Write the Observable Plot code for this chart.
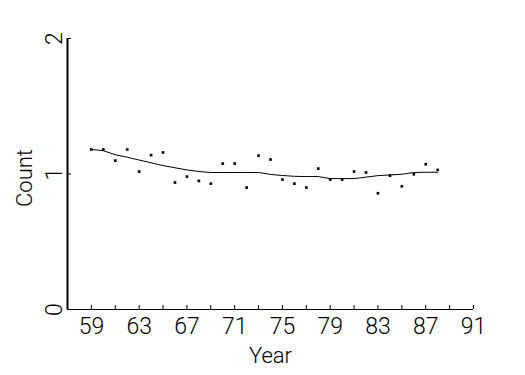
<!DOCTYPE html>
<html>
<head>
<meta charset="utf-8">
<script src="https://cdn.jsdelivr.net/npm/d3@7"></script>
<script src="https://cdn.jsdelivr.net/npm/@observablehq/plot@0.6"></script>
<style>
  html, body { margin: 0; padding: 0; background: #fff; }
  #chart { width: 525px; height: 375px; }
</style>
</head>
<body>
<div id="chart"></div>
<script>
const years = d3.range(59, 89);
const counts = [1.181, 1.181, 1.099, 1.181, 1.018, 1.139, 1.159, 0.937, 0.981, 0.949,
                0.929, 1.077, 1.077, 0.900, 1.136, 1.107, 0.959, 0.929, 0.900, 1.040,
                0.959, 0.959, 1.018, 1.011, 0.858, 0.988, 0.909, 0.998, 1.072, 1.030];
const smooth = [1.181, 1.172, 1.142, 1.124, 1.103, 1.083, 1.062, 1.046, 1.030, 1.018,
                1.011, 1.011, 1.011, 1.011, 1.011, 0.997, 0.989, 0.983, 0.981, 0.981,
                0.966, 0.966, 0.966, 0.977, 0.988, 0.993, 0.998, 1.011, 1.013, 1.013];
const xTicks = d3.range(59, 92, 2);
const xLabels = d3.range(59, 92, 4);
const yTicks = [0, 1, 2];
const xTitle = "Year";
const yTitle = "Count";

const data = years.map((y, i) => ({year: y, count: counts[i], smooth: smooth[i]}));

const FONT = "Roboto";
const W = 525, H = 375, ML = 67, MR = 52, MT = 38, MB = 66;
const plotW = W - ML - MR, plotH = H - MT - MB;

const chart = Plot.plot({
  width: W, height: H,
  marginLeft: ML, marginRight: MR, marginTop: MT, marginBottom: MB,
  style: {background: "#fff", fontFamily: FONT, color: "#000", overflow: "visible"},
  x: {domain: [57, 91], axis: null},
  y: {domain: [0, 2], axis: null},
  marks: [
    Plot.ruleY([0], {stroke: "#000", strokeWidth: 1}),
    Plot.ruleX([57], {stroke: "#000", strokeWidth: 2}),
    Plot.tickX(xTicks, {x: d => d, stroke: "#000", insetTop: plotH - 4}),
    Plot.tickY(yTicks, {y: d => d, stroke: "#000", insetRight: plotW - 4}),
    Plot.text(xLabels, {x: d => d, y: 0, text: d => String(d), dy: 17, lineAnchor: "middle",
      fontSize: 23, fontWeight: 300, fill: "#000", letterSpacing: "1.5px"}),
    Plot.text(yTicks, {y: d => d, text: d => String(d), frameAnchor: "left", dx: -13,
      rotate: -90, textAnchor: "middle", lineAnchor: "middle", fontSize: 23, fontWeight: 300, fill: "#000"}),
    Plot.text([xTitle], {frameAnchor: "bottom", dy: 46, text: d => d, lineAnchor: "middle",
      fontSize: 22, fontWeight: 300, fill: "#000", letterSpacing: "4px"}),
    Plot.text([yTitle], {frameAnchor: "left", dx: -43, dy: 4, text: d => d, rotate: -90,
      textAnchor: "middle", lineAnchor: "middle", fontSize: 22, fontWeight: 300, fill: "#000", letterSpacing: "2px"}),
    Plot.line(data, {x: "year", y: "smooth", stroke: "#000", strokeWidth: 1}),
    Plot.dot(data, {x: "year", y: "count", symbol: "square", r: 1.5, fill: "#000", stroke: "none"})
  ]
});
document.getElementById("chart").appendChild(chart);
</script>
</body>
</html>
